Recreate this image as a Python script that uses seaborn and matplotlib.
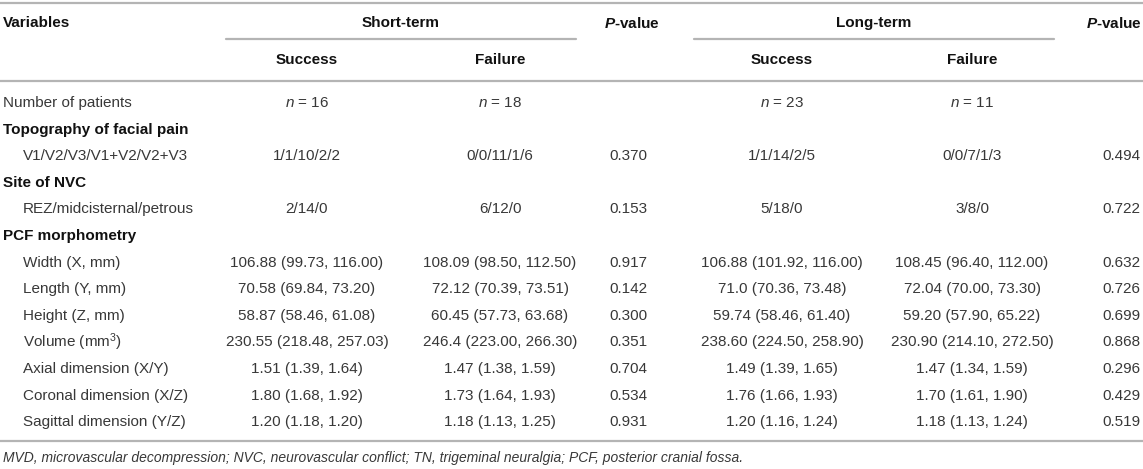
import matplotlib
matplotlib.use("Agg")
import matplotlib.pyplot as plt
import seaborn as sns

# Table content
variables = ["Number of patients",
             "Topography of facial pain",
             "V1/V2/V3/V1+V2/V2+V3",
             "Site of NVC",
             "REZ/midcisternal/petrous",
             "PCF morphometry",
             "Width (X, mm)",
             "Length (Y, mm)",
             "Height (Z, mm)",
             r"Volume (mm$^3$)",
             "Axial dimension (X/Y)",
             "Coronal dimension (X/Z)",
             "Sagittal dimension (Y/Z)"]
is_group = [False, True, False, True, False, True, False, False, False, False, False, False, False]
indented = [False, False, True, False, True, False, True, True, True, True, True, True, True]

short_success = [r"$n$ = 16", "", "1/1/10/2/2", "", "2/14/0", "",
                 "106.88 (99.73, 116.00)", "70.58 (69.84, 73.20)", "58.87 (58.46, 61.08)",
                 "230.55 (218.48, 257.03)", "1.51 (1.39, 1.64)", "1.80 (1.68, 1.92)", "1.20 (1.18, 1.20)"]
short_failure = [r"$n$ = 18", "", "0/0/11/1/6", "", "6/12/0", "",
                 "108.09 (98.50, 112.50)", "72.12 (70.39, 73.51)", "60.45 (57.73, 63.68)",
                 "246.4 (223.00, 266.30)", "1.47 (1.38, 1.59)", "1.73 (1.64, 1.93)", "1.18 (1.13, 1.25)"]
short_p = ["", "", "0.370", "", "0.153", "",
           "0.917", "0.142", "0.300", "0.351", "0.704", "0.534", "0.931"]
long_success = [r"$n$ = 23", "", "1/1/14/2/5", "", "5/18/0", "",
                "106.88 (101.92, 116.00)", "71.0 (70.36, 73.48)", "59.74 (58.46, 61.40)",
                "238.60 (224.50, 258.90)", "1.49 (1.39, 1.65)", "1.76 (1.66, 1.93)", "1.20 (1.16, 1.24)"]
long_failure = [r"$n$ = 11", "", "0/0/7/1/3", "", "3/8/0", "",
                "108.45 (96.40, 112.00)", "72.04 (70.00, 73.30)", "59.20 (57.90, 65.22)",
                "230.90 (214.10, 272.50)", "1.47 (1.34, 1.59)", "1.70 (1.61, 1.90)", "1.18 (1.13, 1.24)"]
long_p = ["", "", "0.494", "", "0.722", "",
          "0.632", "0.726", "0.699", "0.868", "0.296", "0.429", "0.519"]

footnote = ("MVD, microvascular decompression; NVC, neurovascular conflict; "
            "TN, trigeminal neuralgia; PCF, posterior cranial fossa.")

sns.set_theme(style="white")
plt.rcParams['font.family'] = ['Liberation Sans', 'DejaVu Sans']
plt.rcParams['mathtext.fontset'] = 'custom'
plt.rcParams['mathtext.rm'] = 'Liberation Sans'
plt.rcParams['mathtext.it'] = 'Liberation Sans:italic'
plt.rcParams['mathtext.bf'] = 'Liberation Sans:bold'
plt.rcParams['mathtext.bfit'] = 'Liberation Sans:italic:bold'

W, H = 1143, 469
fig = plt.figure(figsize=(W / 100, H / 100), dpi=100)
ax = fig.add_axes([0, 0, 1, 1])
ax.set_xlim(0, W)
ax.set_ylim(H, 0)
ax.axis('off')

body = '#383838'
head = '#111111'
rule = '#b4b4b4'
fs = 11

# column centres
col_x = [307, 500, 628, 782, 972, 1121]
columns = [short_success, short_failure, short_p, long_success, long_failure, long_p]

# header
ax.text(3, 23, "Variables", fontsize=fs, fontweight='bold', color=head, va='center')
ax.text(401, 23, "Short-term", fontsize=fs, fontweight='bold', color=head, va='center', ha='center')
ax.text(874, 23, "Long-term", fontsize=fs, fontweight='bold', color=head, va='center', ha='center')
ax.text(632, 23, r"$\mathbfit{P}$-value", fontsize=fs, fontweight='bold', color=head, va='center', ha='center')
ax.text(1114, 23, r"$\mathbfit{P}$-value", fontsize=fs, fontweight='bold', color=head, va='center', ha='center')
for x in [col_x[0], col_x[3]]:
    ax.text(x, 60, "Success", fontsize=fs, fontweight='bold', color=head, va='center', ha='center')
for x in [col_x[1], col_x[4]]:
    ax.text(x, 60, "Failure", fontsize=fs, fontweight='bold', color=head, va='center', ha='center')

# rules
ax.plot([0, W], [3, 3], color=rule, lw=1.6)
ax.plot([226, 576], [39, 39], color=rule, lw=1.6)
ax.plot([694, 1054], [39, 39], color=rule, lw=1.6)
ax.plot([0, W], [81, 81], color=rule, lw=1.6)
ax.plot([0, W], [441, 441], color=rule, lw=1.6)

# body rows
y0, dy = 103, 26.6
for i, name in enumerate(variables):
    y = y0 + i * dy
    x = 23 if indented[i] else 3
    if is_group[i]:
        ax.text(x, y, name, fontsize=fs, fontweight='bold', color=head, va='center')
    else:
        ax.text(x, y, name, fontsize=fs, color=body, va='center')
    for cx, col in zip(col_x, columns):
        if col[i]:
            ax.text(cx, y, col[i], fontsize=fs, color=body, va='center', ha='center')

ax.text(3, 458, footnote, fontsize=10, style='italic', color=body, va='center')

fig.savefig("out.png", dpi=100)
